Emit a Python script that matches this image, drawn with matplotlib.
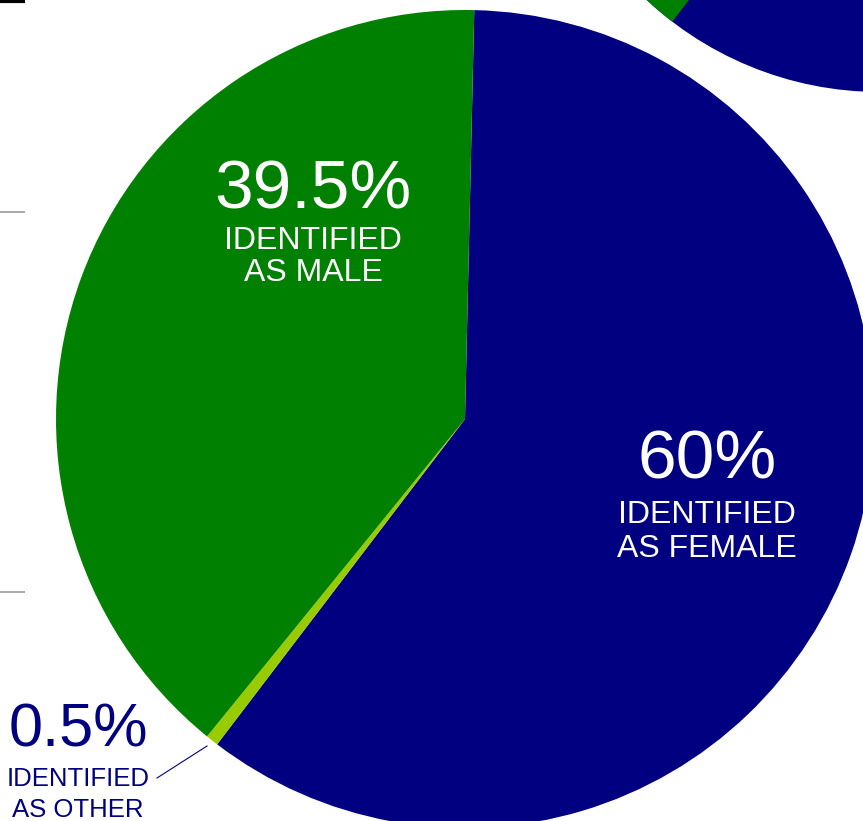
import matplotlib.pyplot as plt
from matplotlib.patches import Circle, Wedge

# data
categories = ['Female', 'Other', 'Male']
shares = [60, 0.5, 39.5]
pct_labels = ['60%', '0.5%', '39.5%']
sub_labels = [['IDENTIFIED', 'AS FEMALE'], ['IDENTIFIED', 'AS OTHER'], ['IDENTIFIED', 'AS MALE']]
colors = ['#000080', '#99cc00', '#008000']

W, H = 863, 821
plt.rcParams['font.family'] = ['Liberation Sans', 'DejaVu Sans']

fig = plt.figure(figsize=(W / 100, H / 100), dpi=100)
ax = fig.add_axes([0, 0, 1, 1])

# neighbouring chart peeking in at the top right
ax.add_patch(Circle((880, H + 250), 342, color='#000080', lw=0))
ax.add_patch(Wedge((880, H + 250), 342, 190, 232.6, color='#008000', lw=0))

# main pie, image centre (465, 419)
ax.pie(shares, colors=colors, startangle=88.7, counterclock=False,
       center=(465, H - 419), radius=409, frame=True,
       wedgeprops=dict(linewidth=0))

# little rule marks on the left edge
ax.plot([0, 25], [H - 1, H - 1], color='black', lw=3, solid_capstyle='butt')
for yy in (212, 592):
    ax.plot([0, 25], [H - yy, H - yy], color='#999999', lw=1.2, solid_capstyle='butt')


def label(x, y_pct, y_lines, pct, lines, color, big, small):
    ax.text(x, H - y_pct, pct, color=color, fontsize=big, ha='center', va='center')
    for yy, txt in zip(y_lines, lines):
        ax.text(x, H - yy, txt, color=color, fontsize=small, ha='center', va='center')


label(707, 460, (515, 549), pct_labels[0], sub_labels[0], 'white', 50, 23)
label(313, 190, (241, 273), pct_labels[2], sub_labels[2], 'white', 50, 23)
label(78, 731, (779, 810), pct_labels[1], sub_labels[1], '#000080', 44, 18.5)
ax.plot([157, 207], [H - 778, H - 746], color='#000080', lw=0.8)

ax.set_xlim(0, W)
ax.set_ylim(0, H)
ax.set_aspect('auto')
ax.axis('off')

fig.savefig('out.png', dpi=100)
